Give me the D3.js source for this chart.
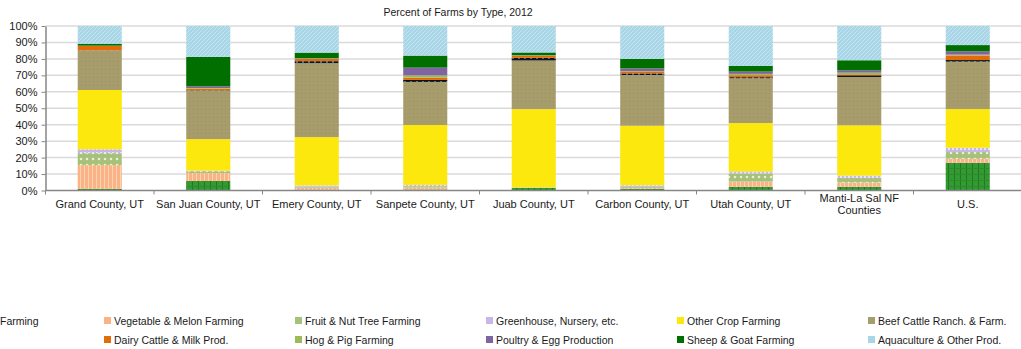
<!DOCTYPE html>
<html>
<head>
<meta charset="utf-8">
<script src="https://cdn.jsdelivr.net/npm/d3@7"></script>
<style>
  body { margin: 0; background: #fff; }
  text { font-family: "Liberation Sans", Arial, sans-serif; fill: #1a1a1a; }
</style>
</head>
<body>
<div id="chart"></div>
<script>
// categories (x axis)
var categories = ["Grand County, UT", "San Juan County, UT", "Emery County, UT", "Sanpete County, UT",
    "Juab County, UT", "Carbon County, UT", "Utah County, UT", "Manti-La Sal NF Counties", "U.S."];

// percent of farms per type, one value per category
var oilseed    = [1.0, 5.8, 0.5, 0.6, 1.6, 1.0, 2.2, 2.2, 16.9];
var vegetable  = [14.5, 4.8, 1.2, 1.2, 0.1, 0.6, 3.2, 2.6, 2.4];
var fruit      = [7.3, 1.2, 0.6, 0.8, 0.1, 0.6, 5.0, 2.8, 4.1];
var greenhouse = [2.4, 0.3, 0.8, 0.8, 0.1, 1.0, 1.2, 1.4, 2.6];
var otherCrop  = [36.1, 19.2, 29.4, 36.4, 47.9, 36.2, 29.4, 30.4, 23.5];
var beef       = [24.1, 29.4, 45.0, 26.2, 29.8, 30.8, 27.2, 29.2, 28.8];
var feedlots   = [0.1, 0.3, 1.2, 1.2, 1.6, 1.0, 0.7, 1.0, 1.0];
var dairy      = [2.6, 1.0, 1.4, 1.4, 1.2, 1.2, 1.2, 0.6, 2.8];
var hog        = [0.1, 0.4, 0.3, 1.4, 0.3, 0.2, 0.8, 1.0, 0.5];
var poultry    = [0.1, 1.0, 0.1, 4.7, 0.1, 1.6, 1.4, 1.4, 2.0];
var sheep      = [1.2, 18.0, 3.4, 7.3, 1.7, 5.8, 3.4, 6.1, 3.8];
var aqua       = [10.8, 18.8, 16.2, 18.0, 16.2, 20.0, 24.3, 20.7, 11.6];

var seriesNames = ["Oilseed & Grain Farming", "Vegetable & Melon Farming", "Fruit & Nut Tree Farming",
    "Greenhouse, Nursery, etc.", "Other Crop Farming", "Beef Cattle Ranch. & Farm.",
    "Cattle Feedlots", "Dairy Cattle & Milk Prod.", "Hog & Pig Farming",
    "Poultry & Egg Production", "Sheep & Goat Farming", "Aquaculture & Other Prod."];
var seriesValues = [oilseed, vegetable, fruit, greenhouse, otherCrop, beef,
    feedlots, dairy, hog, poultry, sheep, aqua];

var yTicks = [0, 0.1, 0.2, 0.3, 0.4, 0.5, 0.6, 0.7, 0.8, 0.9, 1];

// build table for d3.stack
var table = categories.map(function(c, i) {
    var row = { cat: c };
    seriesNames.forEach(function(s, j) { row[s] = seriesValues[j][i]; });
    return row;
});

var width = 1021, height = 349;
var plotLeft = 45.5, plotRight = 1021, plotTop = 26, plotBottom = 190.5;

var svg = d3.select("#chart").append("svg")
    .attr("width", width)
    .attr("height", height);

// excel-like pattern fills
var defs = svg.append("defs");
function pat(id, w, h, bg, draw) {
    var p = defs.append("pattern").attr("id", id)
        .attr("patternUnits", "userSpaceOnUse").attr("width", w).attr("height", h);
    p.append("rect").attr("width", w).attr("height", h).attr("fill", bg);
    draw(p);
}
pat("p0", 6, 6, "#339933", function(p) {
    p.append("rect").attr("x", 0).attr("y", 0).attr("width", 1).attr("height", 6).attr("fill", "#1f7a1f");
    p.append("rect").attr("x", 0).attr("y", 0).attr("width", 6).attr("height", 1).attr("fill", "#2c8a2c");
});
pat("p1", 4, 4, "#fab386", function(p) {
    p.append("rect").attr("x", 0).attr("width", 1).attr("height", 4).attr("fill", "#ffd2b4");
});
pat("p2", 6, 6, "#a6c27a", function(p) {
    p.append("circle").attr("cx", 3).attr("cy", 3).attr("r", 1.3).attr("fill", "#e6efd2");
});
pat("p3", 4, 4, "#c9b6e8", function(p) {
    p.append("rect").attr("x", 0).attr("y", 0).attr("width", 2).attr("height", 2).attr("fill", "#ebe3f7");
});
pat("p5", 4, 4, "#a69c6c", function(p) {
    p.append("rect").attr("x", 1).attr("y", 1).attr("width", 1).attr("height", 1).attr("fill", "#9a9060");
});
pat("p6", 6, 4, "#111111", function(p) {
    p.append("rect").attr("x", 2).attr("y", 1).attr("width", 2).attr("height", 2).attr("fill", "#3a6f9a");
});
pat("p11", 4, 4, "#a8d6e6", function(p) {
    p.append("path").attr("d", "M0,4 L4,0").attr("stroke", "#c4e4ef").attr("stroke-width", 1);
});

var fills = ["url(#p0)", "url(#p1)", "url(#p2)", "url(#p3)", "#fce80c", "url(#p5)",
    "url(#p6)", "#e36c0a", "#9bbb59", "#8064a2", "#006f00", "url(#p11)"];
var legendFills = ["#339933", "#fab386", "#a6c27a", "#c9b6e8", "#fce80c", "#a69c6c",
    "#111111", "#e36c0a", "#9bbb59", "#8064a2", "#006f00", "#a8d6e6"];

var xScale = d3.scaleBand()
    .domain(categories)
    .range([plotLeft, plotLeft + 108.5 * 9])
    .paddingInner(0.594)
    .paddingOuter(0.297);

var yScale = d3.scaleLinear().domain([0, 1]).range([plotBottom, plotTop]);

// gridlines
svg.append("g").selectAll("line")
    .data(yTicks.slice(1))
    .enter().append("line")
    .attr("x1", plotLeft).attr("x2", plotRight)
    .attr("y1", d => yScale(d)).attr("y2", d => yScale(d))
    .attr("stroke", "#dadada").attr("stroke-width", 1.5);

// title
svg.append("text")
    .attr("x", 458).attr("y", 16)
    .attr("text-anchor", "middle")
    .attr("font-size", "10.5px")
    .text("Percent of Farms by Type, 2012");

// stacked bars
var stack = d3.stack().keys(seriesNames).offset(d3.stackOffsetExpand);
var layers = stack(table);

svg.append("g").selectAll("g")
    .data(layers)
    .enter().append("g")
    .attr("fill", (d, i) => fills[i])
    .selectAll("rect")
    .data(d => d)
    .enter().append("rect")
    .attr("x", d => xScale(d.data.cat))
    .attr("y", d => yScale(d[1]))
    .attr("height", d => yScale(d[0]) - yScale(d[1]))
    .attr("width", xScale.bandwidth());

// y axis
var yAxis = svg.append("g")
    .attr("transform", "translate(" + plotLeft + ",0)")
    .call(d3.axisLeft(yScale).tickValues(yTicks).tickFormat(d3.format(".0%")).tickSize(4).tickSizeOuter(0));
yAxis.selectAll("text").attr("font-size", "11px").attr("font-family", null).attr("x", -8);
yAxis.selectAll("line").attr("stroke", "#868686");
yAxis.select(".domain").attr("stroke", "#868686").attr("stroke-width", 1.5);

// x axis
var xg = svg.append("g");
xg.append("line")
    .attr("x1", plotLeft).attr("x2", plotRight)
    .attr("y1", plotBottom).attr("y2", plotBottom)
    .attr("stroke", "#868686").attr("stroke-width", 1.5);
xg.selectAll("line.tick")
    .data(categories)
    .enter().append("line")
    .attr("class", "tick")
    .attr("x1", d => xScale(d) - xScale.step() * xScale.paddingOuter())
    .attr("x2", d => xScale(d) - xScale.step() * xScale.paddingOuter())
    .attr("y1", plotBottom).attr("y2", plotBottom + 4)
    .attr("stroke", "#868686");
var xLabels = {
    "Manti-La Sal NF Counties": ["Manti-La Sal NF", "Counties"]
};
xg.selectAll("text")
    .data(categories)
    .enter().append("text")
    .attr("text-anchor", "middle")
    .attr("font-size", "11px")
    .each(function(d) {
        var lines = xLabels[d] || [d];
        var t = d3.select(this);
        var cx = xScale(d) + xScale.bandwidth() / 2;
        lines.forEach(function(l, k) {
            t.append("tspan").attr("x", cx).attr("y", 207.5 + k * 12 - (lines.length - 1) * 6).text(l);
        });
    });

// legend, two rows of six
var legend = svg.append("g").selectAll("g")
    .data(seriesNames)
    .enter().append("g")
    .attr("transform", (d, i) => "translate(" + (-87 + (i % 6) * 191) + "," + (i < 6 ? 321 : 340) + ")");
legend.append("rect")
    .attr("x", 0).attr("y", -4).attr("width", 7).attr("height", 7)
    .attr("fill", (d, i) => legendFills[i]);
legend.append("text")
    .attr("x", 10).attr("y", 4)
    .attr("font-size", "10.5px")
    .text(d => d);
</script>
</body>
</html>
